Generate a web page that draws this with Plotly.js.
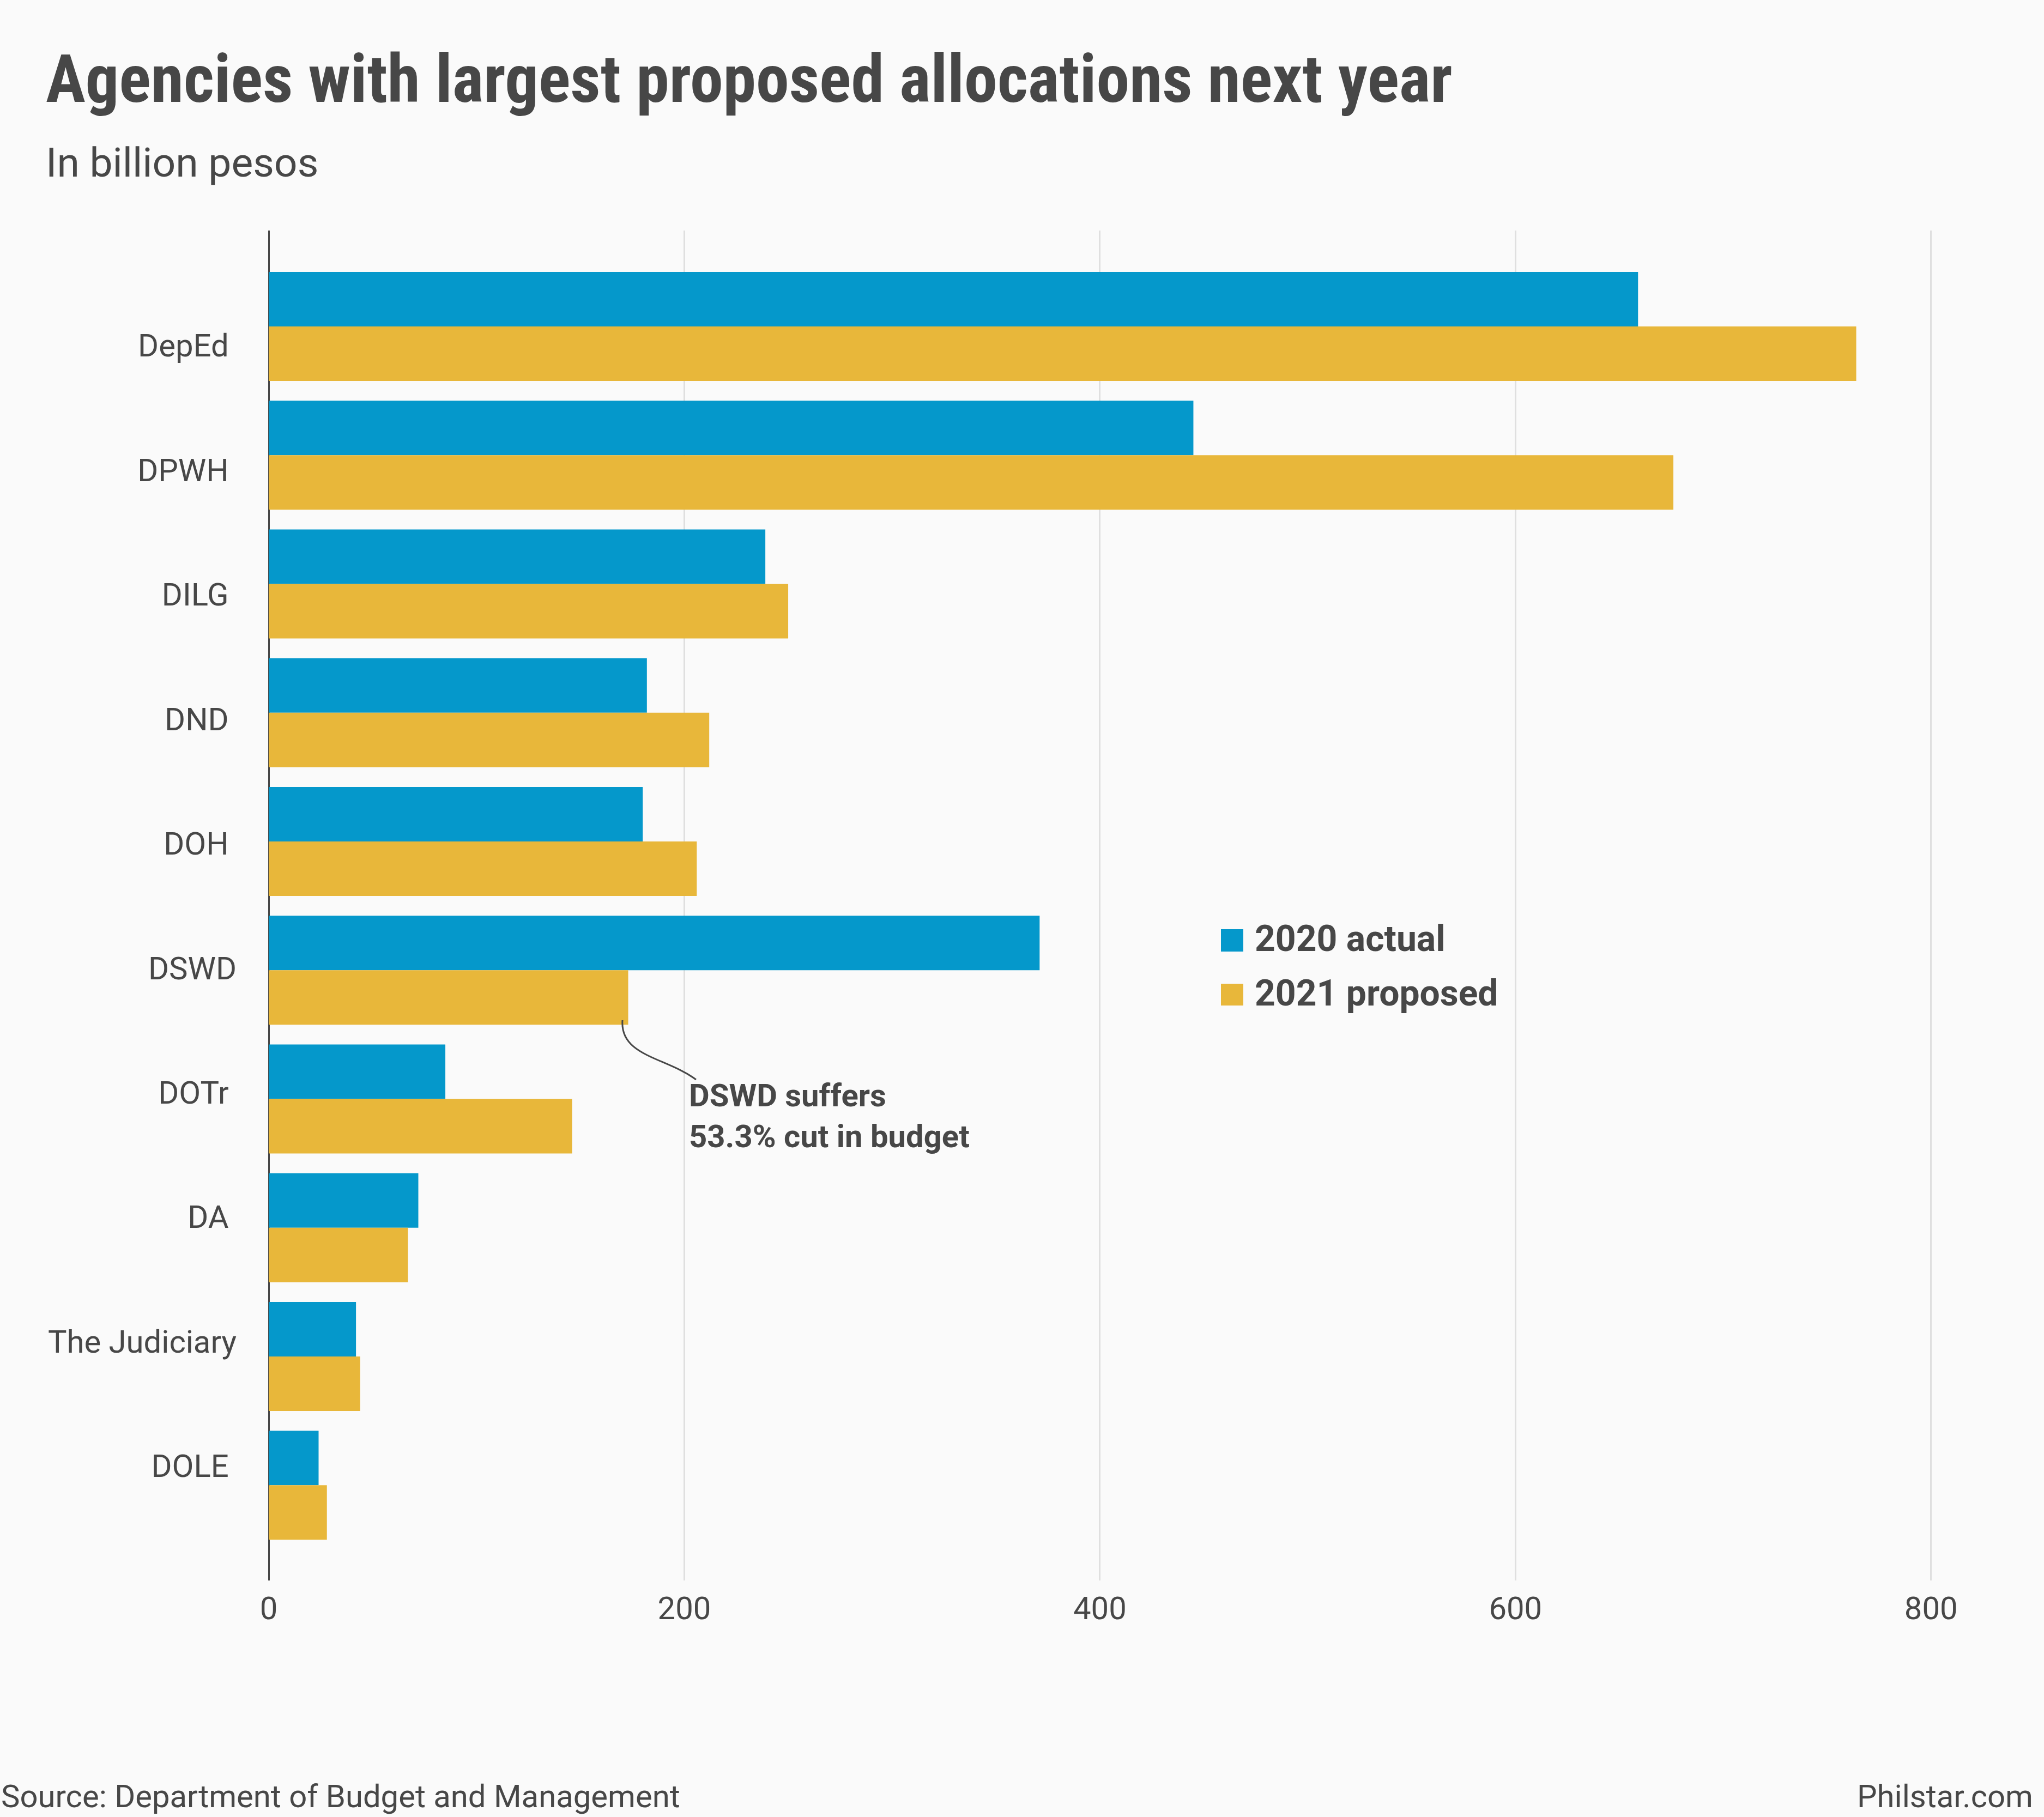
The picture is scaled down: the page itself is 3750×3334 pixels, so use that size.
<!DOCTYPE html>
<html>
<head>
<meta charset="utf-8">
<script src="https://cdn.plot.ly/plotly-3.0.1.min.js"></script>
<style>
  html, body { margin: 0; padding: 0; background: #fafafa; }
  #chart { width: 3750px; height: 3334px; }
</style>
</head>
<body>
<div id="chart"></div>
<script>
// ---- Data (billion pesos) ----
const agencies = ["DepEd", "DPWH", "DILG", "DND", "DOH", "DSWD", "DOTr", "DA", "The Judiciary", "DOLE"];
const actual2020 = [659, 445, 239, 182, 180, 371, 85, 72, 42, 24];
const proposed2021 = [764, 676, 250, 212, 206, 173, 146, 67, 44, 28];
const seriesNames = ["2020 actual", "2021 proposed"];
const xTickVals = [0, 200, 400, 600, 800];
// category tick labels as shown (some carry a trailing space in the original)
const agencyLabels = ["DepEd\u00a0", "DPWH\u00a0", "DILG\u00a0", "DND\u00a0", "DOH\u00a0", "DSWD", "DOTr\u00a0", "DA\u00a0", "The Judiciary", "DOLE\u00a0"];

// ---- Styling ----
const BLUE = "#0598cb";
const GOLD = "#e8b73a";
const TEXT = "#474747";
const BG = "#fafafa";
const W = 3750, H = 3334;
const M = { l: 493, r: 131, t: 423, b: 434 };
const PW = W - M.l - M.r, PH = H - M.t - M.b;
// pixel -> paper helpers (for text placement only)
const px = v => (v - M.l) / PW;
const py = v => (H - M.b - v) / PH;

const traces = [
  {
    type: "bar", orientation: "h", name: seriesNames[0],
    y: agencies, x: actual2020,
    marker: { color: BLUE, line: { width: 0 } },
    hoverinfo: "x+y", showlegend: false
  },
  {
    type: "bar", orientation: "h", name: seriesNames[1],
    y: agencies, x: proposed2021,
    marker: { color: GOLD, line: { width: 0 } },
    hoverinfo: "x+y", showlegend: false
  },
  {
    // invisible helper trace carrying the category labels axis
    type: "scatter", mode: "markers", yaxis: "y2",
    y: agencies, x: proposed2021,
    marker: { opacity: 0, size: 1 }, hoverinfo: "skip", showlegend: false
  }
];

const annotations = [
  { text: "<b>Agencies with largest proposed allocations next year</b>",
    xref: "paper", yref: "paper", x: px(82), y: py(146), xanchor: "left", yanchor: "middle",
    showarrow: false, font: { family: "Liberation Sans Narrow, Roboto Condensed, Roboto", size: 122, color: TEXT } },
  { text: "In billion pesos",
    xref: "paper", yref: "paper", x: px(82), y: py(298), xanchor: "left", yanchor: "middle",
    showarrow: false, font: { family: "Roboto", size: 75, color: TEXT } },
  { text: "<b>DSWD suffers<br>53.3% cut in budget</b>",
    xref: "paper", yref: "paper", x: px(1262), y: py(2047), xanchor: "left", yanchor: "middle", align: "left",
    showarrow: false, font: { family: "Roboto", size: 58, color: TEXT } },
  { text: "<b>" + seriesNames[0] + "</b>",
    xref: "paper", yref: "paper", x: px(2300), y: py(1722), xanchor: "left", yanchor: "middle",
    showarrow: false, font: { family: "Roboto", size: 66, color: TEXT } },
  { text: "<b>" + seriesNames[1] + "</b>",
    xref: "paper", yref: "paper", x: px(2300), y: py(1822), xanchor: "left", yanchor: "middle",
    showarrow: false, font: { family: "Roboto", size: 66, color: TEXT } },
  { text: "Source: Department of Budget and Management",
    xref: "paper", yref: "paper", x: px(0), y: py(3296), xanchor: "left", yanchor: "middle",
    showarrow: false, font: { family: "Roboto", size: 58, color: TEXT } },
  { text: "Philstar.com",
    xref: "paper", yref: "paper", x: px(3732), y: py(3296), xanchor: "right", yanchor: "middle",
    showarrow: false, font: { family: "Roboto", size: 58, color: TEXT } }
];

const shapes = [
  // legend swatches
  { type: "rect", xref: "paper", yref: "paper", x0: px(2240), x1: px(2281), y0: py(1705), y1: py(1746),
    fillcolor: BLUE, line: { width: 0 } },
  { type: "rect", xref: "paper", yref: "paper", x0: px(2240), x1: px(2281), y0: py(1805), y1: py(1845),
    fillcolor: GOLD, line: { width: 0 } },
  // curved connector for the DSWD note
  { type: "path", xref: "paper", yref: "paper",
    path: "M " + px(1142) + "," + py(1872) + " C " + px(1137) + "," + py(1938) + " " +
          px(1222) + "," + py(1940) + " " + px(1277) + "," + py(1981),
    line: { color: TEXT, width: 3 }, fillcolor: "rgba(0,0,0,0)" }
];

const layout = {
  width: W, height: H,
  paper_bgcolor: BG, plot_bgcolor: BG,
  margin: M,
  barmode: "group", bargap: 0.153, bargroupgap: 0,
  font: { family: "Roboto", color: TEXT, size: 58 },
  xaxis: {
    range: [0, 820], tickvals: xTickVals, ticktext: xTickVals.map(String),
    showgrid: true, gridcolor: "#dfdfdf", gridwidth: 3,
    zeroline: true, zerolinecolor: TEXT, zerolinewidth: 3,
    showline: false, ticks: "", ticklabelstandoff: 12,
    tickfont: { family: "Roboto", size: 58, color: TEXT }
  },
  yaxis: {
    type: "category", categoryorder: "array", categoryarray: agencies,
    range: [9.74, -0.745], showticklabels: false, showgrid: false, zeroline: false, ticks: ""
  },
  yaxis2: {
    type: "category", categoryorder: "array", categoryarray: agencies,
    tickmode: "array", tickvals: agencies, ticktext: agencyLabels,
    overlaying: "y", side: "left",
    range: [9.919, -0.924], showgrid: false, zeroline: false, ticks: "",
    ticklabelstandoff: 58,
    tickfont: { family: "Roboto", size: 58, color: TEXT }
  },
  annotations: annotations,
  shapes: shapes,
  showlegend: false
};

Plotly.newPlot("chart", traces, layout, { displayModeBar: false, staticPlot: true });
</script>
</body>
</html>
